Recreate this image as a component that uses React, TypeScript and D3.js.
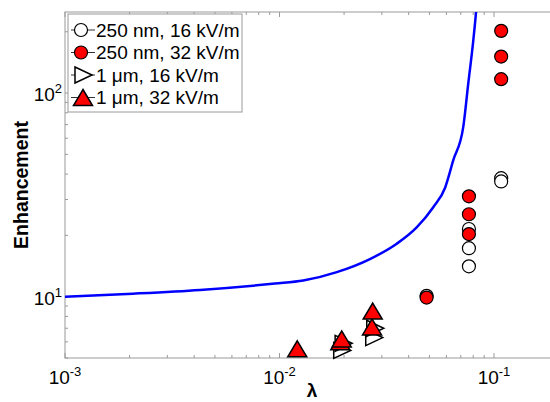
import React from "react";
import * as d3 from "d3";

// blue model curve
const curveLambda = [0.001, 0.00207, 0.00426, 0.00953, 0.0129, 0.0185, 0.0264, 0.0352, 0.0436, 0.0521, 0.0591, 0.0646, 0.0719, 0.0759, 0.0801, 0.0824, 0.0835];
const curveEnh = [10.0, 10.35, 10.8, 11.6, 12.0, 13.2, 15.3, 18.2, 21.9, 27.5, 34.2, 46.8, 68.2, 112, 182, 248, 300];

// 250 nm, 16 kV/m
const nm250lowL = [0.0485, 0.0764, 0.0764, 0.0764, 0.108, 0.108];
const nm250lowE = [10.1, 21.5, 17.3, 14.1, 38.2, 36.8];
// 250 nm, 32 kV/m
const nm250highL = [0.0485, 0.0764, 0.0764, 0.0764, 0.108, 0.108, 0.108];
const nm250highE = [9.9, 31.1, 25.4, 20.3, 202, 151, 117];
// 1 um, 16 kV/m
const um1lowL = [0.0195, 0.0198, 0.0275, 0.0278];
const um1lowE = [5.45, 5.9, 6.3, 7.0];
// 1 um, 32 kV/m
const um1highL = [0.0121, 0.0192, 0.0195, 0.027, 0.0272];
const um1highE = [5.55, 6.0, 6.2, 7.1, 8.5];

const legendLabels = ["250 nm, 16 kV/m", "250 nm, 32 kV/m", "1 \u03bcm, 16 kV/m", "1 \u03bcm, 32 kV/m"];
const xMajor = [1e-3, 1e-2, 1e-1];
const yMajor = [10, 100];

const W = 550, H = 402;
const left = 65, top = 12, bottom = 358;
const font = "'Liberation Sans', Arial, sans-serif";
const axisColor = "#9a9a9a";

const Marker = ({ kind, x, y }) => {
  if (kind === "circle" || kind === "circleRed")
    return <circle cx={x} cy={y} r={6.5} fill={kind === "circle" ? "#fff" : "#ff0000"} stroke="#000" strokeWidth={1.2} />;
  if (kind === "tri")
    return <path d={`M${x - 8},${y - 8}L${x + 9},${y}L${x - 8},${y + 8}Z`} fill="#fff" stroke="#000" strokeWidth={1.5} />;
  return <path d={`M${x},${y - 8}L${x + 9.5},${y + 8}L${x - 9.5},${y + 8}Z`} fill="#ff0000" stroke="#000" strokeWidth={1.5} />;
};

const App = () => {
  const x = d3.scaleLog().domain([0.001, 0.2]).range([left, left + Math.log10(200) * 214.5]);
  const y = d3.scaleLog().domain([5, 250]).range([bottom, top]);
  const [x0, x1] = x.range();

  const xMinor = [];
  [1e-3, 1e-2, 1e-1].forEach((d) => d3.range(2, 10).forEach((k) => { if (d * k <= 0.2) xMinor.push(d * k); }));
  const yMinor = [5, 6, 7, 8, 9, 20, 30, 40, 50, 60, 70, 80, 90, 200];

  const line = d3.line().x((d) => x(d[0])).y((d) => y(d[1])).curve(d3.curveMonotoneX);
  const curve = curveLambda.map((l, i) => [l, curveEnh[i]]);

  const series = [
    { kind: "circle", L: nm250lowL, E: nm250lowE },
    { kind: "circleRed", L: nm250highL, E: nm250highE },
    { kind: "tri", L: um1lowL, E: um1lowE },
    { kind: "triRed", L: um1highL, E: um1highE },
  ];

  return (
    <svg width={W} height={H} style={{ position: "absolute", left: 0, top: 0, background: "#fff" }} fontFamily={font}>
      <defs>
        <clipPath id="plot"><rect x={x0} y={top} width={x1 - x0} height={bottom - top} /></clipPath>
      </defs>
      {/* axes box */}
      <rect x={x0} y={top} width={x1 - x0} height={bottom - top} fill="none" stroke={axisColor} strokeWidth={1} />
      {xMajor.map((d) => (
        <g key={"xm" + d}>
          <line x1={x(d)} x2={x(d)} y1={bottom} y2={bottom - 5} stroke={axisColor} />
          <line x1={x(d)} x2={x(d)} y1={top} y2={top + 5} stroke={axisColor} />
          <text x={x(d)} y={384} textAnchor="middle" fontSize={19}>
            10<tspan dy={-8} fontSize={13}>{Math.round(Math.log10(d))}</tspan>
          </text>
        </g>
      ))}
      {xMinor.map((d, i) => (
        <g key={"xn" + i}>
          <line x1={x(d)} x2={x(d)} y1={bottom} y2={bottom - 3} stroke={axisColor} />
          <line x1={x(d)} x2={x(d)} y1={top} y2={top + 3} stroke={axisColor} />
        </g>
      ))}
      {yMajor.map((d) => (
        <g key={"ym" + d}>
          <line x1={x0} x2={x0 + 5} y1={y(d)} y2={y(d)} stroke={axisColor} />
          <text x={62} y={y(d) + 8} textAnchor="end" fontSize={19}>
            10<tspan dy={-8} fontSize={13}>{Math.round(Math.log10(d))}</tspan>
          </text>
        </g>
      ))}
      {yMinor.map((d) => (
        <line key={"yn" + d} x1={x0} x2={x0 + 3} y1={y(d)} y2={y(d)} stroke={axisColor} />
      ))}

      <path d={line(curve)} fill="none" stroke="#0000ff" strokeWidth={2.5} clipPath="url(#plot)" />

      {series.map((s) =>
        s.L.map((l, i) => <Marker key={s.kind + i} kind={s.kind} x={x(l)} y={y(s.E[i])} />)
      )}

      <text x={312} y={397} textAnchor="middle" fontSize={19} fontWeight="bold">λ</text>
      <text transform={`translate(28,${(top + bottom) / 2}) rotate(-90)`} textAnchor="middle" fontSize={19.5} fontWeight="bold">
        Enhancement
      </text>

      {/* legend */}
      <rect x={68} y={14} width={174} height={98} fill="#fff" stroke={axisColor} />
      {legendLabels.map((lab, i) => {
        const cy = 30 + i * 22.5;
        return (
          <g key={lab}>
            <line x1={71} x2={95} y1={cy} y2={cy} stroke="#000" strokeWidth={0.8} />
            <Marker kind={series[i].kind} x={i >= 2 ? 83 : 81} y={cy} />
            <text x={96} y={cy + 6.5} fontSize={19}>{lab}</text>
          </g>
        );
      })}
    </svg>
  );
};

export default App;
